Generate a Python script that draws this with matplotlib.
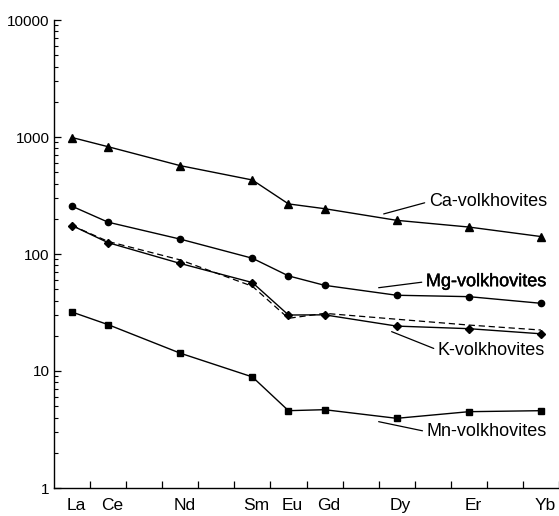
import matplotlib
matplotlib.use("Agg")
import matplotlib.pyplot as plt
import matplotlib.patheffects as pe
from matplotlib.ticker import FixedLocator, LogLocator, NullFormatter
from matplotlib.transforms import ScaledTranslation

plt.rcParams['font.family'] = ['Liberation Sans', 'DejaVu Sans']

# REE order (index along the lanthanide series)
ree_all = ['La', 'Ce', 'Pr', 'Nd', 'Pm', 'Sm', 'Eu', 'Gd', 'Tb', 'Dy', 'Ho', 'Er', 'Tm', 'Yb']
elements = ['La', 'Ce', 'Nd', 'Sm', 'Eu', 'Gd', 'Dy', 'Er', 'Yb']

# Chondrite-normalised REE contents
ca_volkhovites = [990, 826, 569, 429, 268, 244, 194, 170, 141]
mg_volkhovites = [256, 187, 134, 92, 65, 54, 44.4, 43.2, 37.9]
k_volkhovites = [175, 125, 83, 57, 30.1, 30.2, 24.2, 23.0, 20.8]
k_volkhovites_alt = [175, 128, 89, 53, 28.2, 31.1, 27.7, 24.7, 22.4]
mn_volkhovites = [31.9, 24.9, 14.2, 8.9, 4.58, 4.67, 3.94, 4.49, 4.58]

xpos = [ree_all.index(e) for e in elements]

W, H = 559, 516
fig = plt.figure(figsize=(W / 100, H / 100), dpi=100)
ax = fig.add_axes([54 / W, 28 / H, 505 / W, 468 / H])

lw = 1.0
ax.plot(xpos, ca_volkhovites, color='black', lw=lw, marker='^', ms=5.5)
ax.plot(xpos, mg_volkhovites, color='black', lw=lw, marker='o', ms=4.5)
ax.plot(xpos, k_volkhovites_alt, color='black', lw=0.9, ls=(0, (5, 3)))
ax.plot(xpos, k_volkhovites, color='black', lw=lw, marker='D', ms=3.8)
ax.plot(xpos, mn_volkhovites, color='black', lw=lw, marker='s', ms=4.5)

ax.set_yscale('log')
ax.set_ylim(1, 10000)
ax.set_xlim(-0.5, 13.5)

# series labels with leader lines
labels = [
    ('Ca-volkhovites', (8.64, 220), (9.89, 280)),
    ('Mg-volkhovites', (8.50, 51.5), (9.81, 58)),
    ('K-volkhovites', (8.86, 21.7), (10.14, 15.1)),
    ('Mn-volkhovites', (8.50, 3.69), (9.83, 3.03)),
]
for text, xy, xytext in labels:
    t = ax.annotate(text, xy=xy, xytext=xytext, ha='left', va='center',
                    fontsize=13,
                    arrowprops=dict(arrowstyle='-', color='black', lw=0.9,
                                    relpos=(0, 0.5), shrinkA=1, shrinkB=0))
    if text.startswith('Mg'):
        t.set_path_effects([pe.withStroke(linewidth=0.3, foreground='black')])

# spines
ax.spines['top'].set_visible(False)
ax.spines['right'].set_visible(False)
for s in ('left', 'bottom'):
    ax.spines[s].set_linewidth(1.0)

# y axis ticks
ax.yaxis.set_major_locator(FixedLocator([1, 10, 100, 1000, 10000]))
ax.set_yticklabels(['1', '10', '100', '1000', '10000'])
ax.yaxis.set_minor_locator(LogLocator(base=10, subs=range(2, 10)))
ax.yaxis.set_minor_formatter(NullFormatter())
ax.tick_params(axis='y', which='major', direction='in', length=5, width=0.9,
               labelsize=11, pad=3)
ax.tick_params(axis='y', which='minor', direction='in', length=3, width=0.8)

# x axis: labels at elements, ticks between them
ax.set_xticks(xpos)
ax.set_xticklabels(elements)
ax.xaxis.set_minor_locator(FixedLocator([i + 0.5 for i in range(14)]))
ax.tick_params(axis='x', which='major', length=0, labelsize=12.5, pad=7)
ax.tick_params(axis='x', which='minor', direction='in', length=5, width=0.9)
offset = ScaledTranslation(4 / 100, 0, fig.dpi_scale_trans)
for lab in ax.get_xticklabels():
    lab.set_transform(lab.get_transform() + offset)

fig.savefig('out.png', dpi=100)
